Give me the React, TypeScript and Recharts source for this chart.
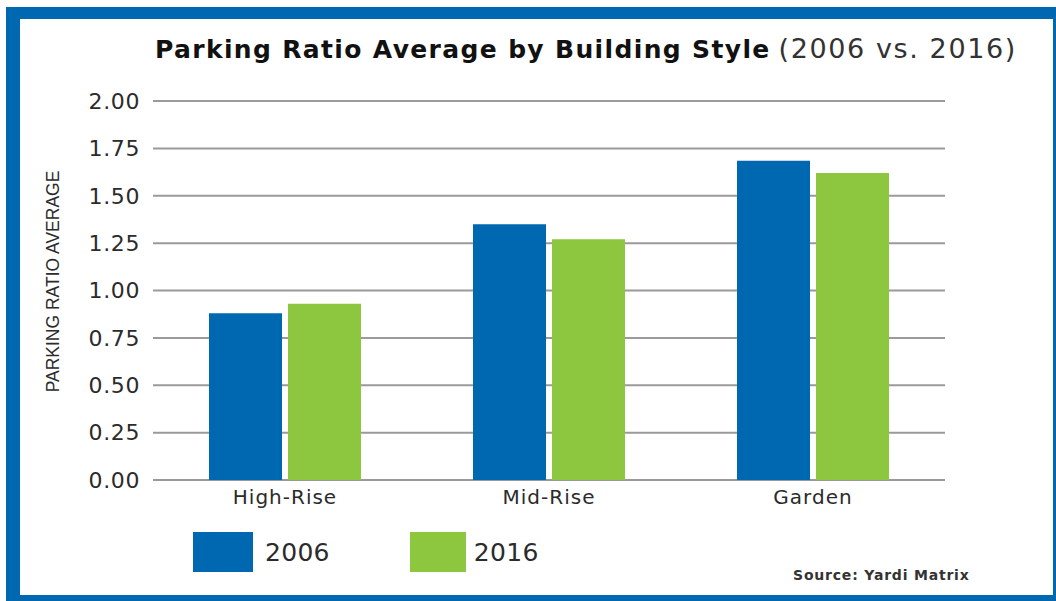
import { Bar, BarChart, CartesianGrid, Label, Legend, XAxis, YAxis } from 'recharts'

const CATEGORIES = ['High-Rise', 'Mid-Rise', 'Garden']
const VALUES_2006 = [0.88, 1.35, 1.685]
const VALUES_2016 = [0.93, 1.27, 1.62]
const Y_TICKS = [0, 0.25, 0.5, 0.75, 1, 1.25, 1.5, 1.75, 2]

const SERIES = [
  { key: 'y2006', name: '2006', color: '#0067b1' },
  { key: 'y2016', name: '2016', color: '#8dc63f' },
]

const data = CATEGORIES.map((name, i) => ({
  name,
  y2006: VALUES_2006[i],
  y2016: VALUES_2016[i],
}))

const FONT = '"DejaVu Sans", sans-serif'
const TEXT = '#2b2b2b'

function YTitle(props: any) {
  const vb = props.viewBox ?? { x: 0, y: 0, height: 0 }
  const cx = vb.x + 20
  const cy = vb.y + vb.height / 2 - 9
  return (
    <text
      x={cx}
      y={cy}
      transform={`rotate(-90, ${cx}, ${cy})`}
      textAnchor="middle"
      dominantBaseline="central"
      fontFamily='"Liberation Sans", sans-serif'
      fontSize={17.5}
      fill={TEXT}
    >
      PARKING RATIO AVERAGE
    </text>
  )
}

function LegendBoxes() {
  return (
    <div style={{ display: 'flex', alignItems: 'center', fontFamily: FONT }}>
      {SERIES.map((s, i) => (
        <div key={s.key} style={{ display: 'flex', alignItems: 'center', marginRight: i === 0 ? 80 : 0 }}>
          <div style={{ width: i === 0 ? 60 : 56, height: 40, background: s.color, marginRight: i === 0 ? 12 : 8 }} />
          <span style={{ fontSize: 25, color: TEXT, letterSpacing: 0.3 }}>{s.name}</span>
        </div>
      ))}
    </div>
  )
}

export default function App() {
  return (
    <div style={{ position: 'fixed', left: 0, top: 0, width: 1056, height: 601, background: '#fff', overflow: 'hidden' }}>
      {/* blue frame */}
      <div
        style={{
          position: 'absolute',
          left: 6,
          top: 7,
          right: 0,
          bottom: 0,
          borderStyle: 'solid',
          borderColor: '#0067b1',
          borderWidth: '12px 3px 6px 14px',
        }}
      />

      {/* title */}
      <div
        style={{
          position: 'absolute',
          left: 155,
          top: 33,
          whiteSpace: 'nowrap',
          fontFamily: FONT,
          color: '#111',
          fontSize: 25,
        }}
      >
        <span style={{ fontWeight: 700, letterSpacing: 1.35 }}>Parking Ratio Average by Building Style</span>{' '}
        <span style={{ fontWeight: 400, fontSize: 27, letterSpacing: 1.6, color: '#333' }}>(2006 vs. 2016)</span>
      </div>

      <div style={{ position: 'absolute', left: 0, top: 0 }}>
        <BarChart
          width={1056}
          height={601}
          data={data}
          margin={{ top: 101, right: 111, bottom: 91, left: 33 }}
          barSize={73}
          barGap={6}
        >
          <CartesianGrid vertical={false} stroke="#9a9a9a" strokeWidth={2} />
          <XAxis
            dataKey="name"
            height={30}
            axisLine={false}
            tickLine={false}
            tickSize={0}
            tickMargin={10}
            tick={{ fontSize: 20, fill: TEXT, fontFamily: FONT, letterSpacing: 1 }}
          />
          <YAxis
            width={120}
            domain={[0, 2]}
            ticks={Y_TICKS}
            interval={0}
            axisLine={false}
            tickLine={false}
            tickSize={0}
            tickMargin={13}
            tickFormatter={(v: number) => v.toFixed(2)}
            tick={{ fontSize: 22, fill: TEXT, fontFamily: FONT, letterSpacing: 0.6 }}
          >
            <Label content={<YTitle />} />
          </YAxis>
          <Legend
            layout="horizontal"
            verticalAlign="middle"
            content={<LegendBoxes />}
            wrapperStyle={{ left: 193, top: 532, width: 400, bottom: 'auto' }}
          />
          {SERIES.map((s) => (
            <Bar key={s.key} dataKey={s.key} name={s.name} fill={s.color} isAnimationActive={false} />
          ))}
        </BarChart>
      </div>

      {/* source note */}
      <div
        style={{
          position: 'absolute',
          left: 793,
          top: 567,
          fontFamily: FONT,
          fontSize: 14,
          fontWeight: 600,
          letterSpacing: 0.8,
          color: '#333',
          whiteSpace: 'nowrap',
        }}
      >
        Source: Yardi Matrix
      </div>
    </div>
  )
}
